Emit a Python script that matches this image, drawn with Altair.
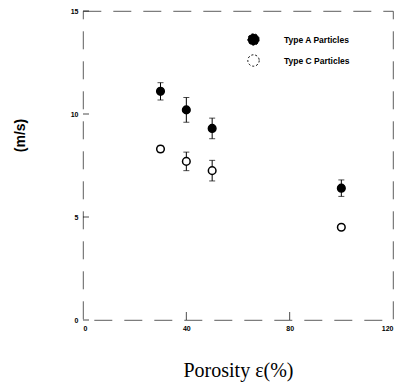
import altair as alt
import pandas as pd

# Measured speed versus porosity for two particle types
porosity = [30, 40, 50, 100]
speed_a = [11.1, 10.2, 9.3, 6.4]
err_a = [0.42, 0.6, 0.5, 0.4]
speed_c = [8.3, 7.7, 7.25, 4.5]
err_c = [0.15, 0.45, 0.5, 0.05]
series_names = ["Type A Particles", "Type C Particles"]
x_ticks = [0, 40, 80, 120]
y_ticks = [0, 5, 10, 15]

rows = []
for name, vals, errs in [(series_names[0], speed_a, err_a), (series_names[1], speed_c, err_c)]:
    for p, v, e in zip(porosity, vals, errs):
        rows.append({"porosity": p, "speed": v, "lo": v - e, "hi": v + e, "type": name})
df = pd.DataFrame(rows)

x_scale = alt.Scale(domain=[0, 120], nice=False, zero=True)
y_scale = alt.Scale(domain=[0, 15], nice=False)

x_axis = alt.Axis(
    values=x_ticks, title="Porosity  ε(%)", ticks=False, domain=False, grid=False,
    labelFont="Liberation Sans", labelFontWeight="bold", labelFontSize=7, labelPadding=4,
    titleFont="Liberation Serif", titleFontWeight="normal", titleFontSize=20,
    titleX=155, titleY=50, titleBaseline="middle", titleAlign="center",
)
y_axis = alt.Axis(
    values=y_ticks, title="(m/s)", ticks=False, domain=False, grid=False,
    labelFont="Liberation Sans", labelFontWeight="bold", labelFontSize=7, labelPadding=5,
    titleFont="Liberation Sans", titleFontWeight="bold", titleFontSize=14,
    titleAngle=-90, titleX=-63, titleY=124, titleBaseline="middle", titleAlign="center",
)

base = alt.Chart(df)

bars = base.mark_rule(color="black", strokeWidth=1).encode(
    x=alt.X("porosity:Q", scale=x_scale, axis=x_axis),
    y=alt.Y("lo:Q", scale=y_scale, axis=y_axis),
    y2="hi:Q",
)
cap_lo = base.mark_tick(color="black", orient="horizontal", size=6, thickness=1).encode(
    x=alt.X("porosity:Q", scale=x_scale), y=alt.Y("lo:Q", scale=y_scale)
)
cap_hi = base.mark_tick(color="black", orient="horizontal", size=6, thickness=1).encode(
    x=alt.X("porosity:Q", scale=x_scale), y=alt.Y("hi:Q", scale=y_scale)
)

points = base.mark_point(filled=False, stroke="black", strokeWidth=1.5, opacity=1, size=58).encode(
    x=alt.X("porosity:Q", scale=x_scale),
    y=alt.Y("speed:Q", scale=y_scale),
    fill=alt.Fill(
        "type:N",
        scale=alt.Scale(domain=series_names, range=["black", "white"]),
        legend=alt.Legend(
            title=None, orient="none", legendX=164, legendY=22,
            symbolType="circle", symbolSize=130, symbolStrokeColor="black",
            symbolStrokeWidth=1, symbolDash=[2, 2], rowPadding=4,
            labelFont="Liberation Sans", labelFontWeight=900, labelFontSize=8.5,
            labelOffset=24, labelColor="black",
        ),
    ),
)

# Inward tick marks on the bottom and left axes
xt = alt.Chart(pd.DataFrame({"t": x_ticks[1:3], "z": [0, 0]})).mark_tick(
    color="black", orient="vertical", size=8, thickness=1, yOffset=-4
).encode(x=alt.X("t:Q", scale=x_scale), y=alt.Y("z:Q", scale=y_scale))
yt = alt.Chart(pd.DataFrame({"t": y_ticks, "z": [0] * 4})).mark_tick(
    color="black", orient="horizontal", size=6, thickness=1, xOffset=3
).encode(x=alt.X("z:Q", scale=x_scale), y=alt.Y("t:Q", scale=y_scale))

chart = (
    alt.layer(bars, cap_lo, cap_hi, points, xt, yt)
    .properties(
        width=310, height=309,
        autosize=alt.AutoSizeParams(type="none"),
        padding={"left": 83, "top": 11, "right": 10, "bottom": 66},
        background="white",
    )
    .configure_view(stroke="#333", strokeWidth=0.8, strokeDash=[18, 12])
)

chart.save("out.html", embed_options={"renderer": "svg", "actions": False})
